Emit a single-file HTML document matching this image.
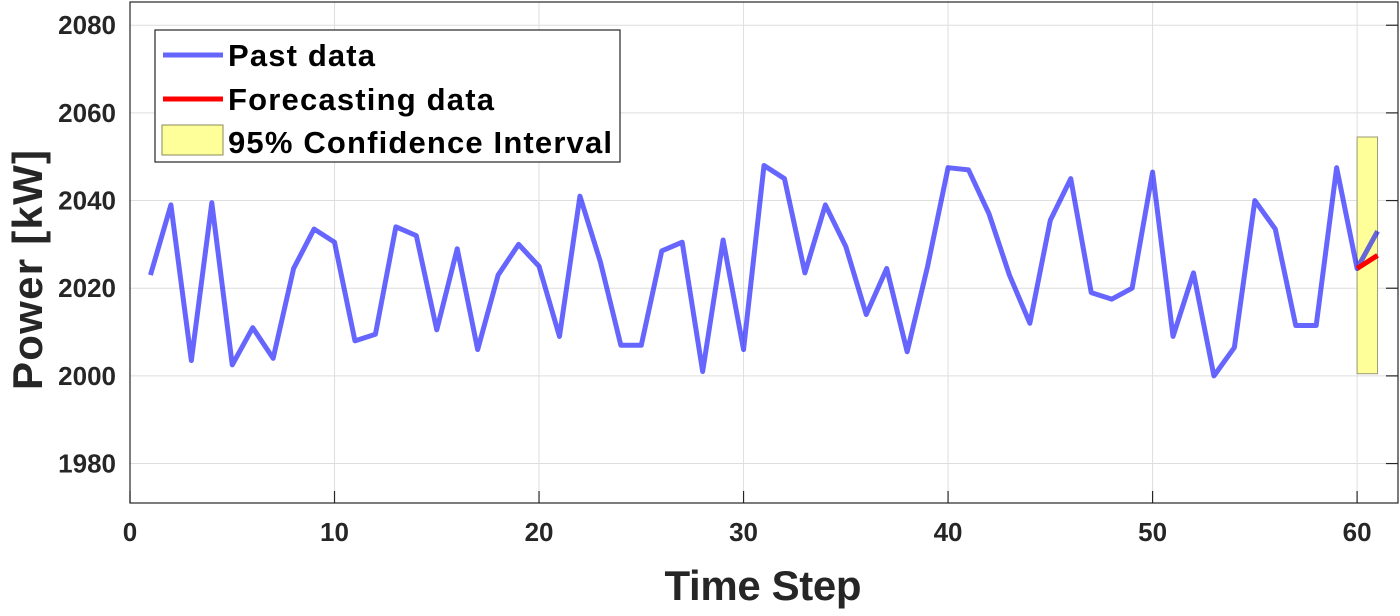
<!DOCTYPE html>
<html><head><meta charset="utf-8"><style>
body{margin:0;background:#fff}
svg text{font-family:"Liberation Sans",Arial,sans-serif;font-weight:bold;fill:#262626}
</style></head><body>
<svg id="chart" width="1400" height="611">
<g id="grid"></g><g id="marks"></g><g id="axes"></g>
<g>
<rect x="155" y="30" width="465" height="132" fill="#fff" stroke="#262626" stroke-width="1.2"/>
<line x1="163" y1="55" x2="223" y2="55" stroke="#6666ff" stroke-width="5"/>
<text x="228" y="66" font-size="31" textLength="147" style="fill:#000">Past data</text>
<line x1="163" y1="99" x2="223" y2="99" stroke="#ff0000" stroke-width="5"/>
<text x="228" y="110" font-size="31" textLength="266" style="fill:#000">Forecasting data</text>
<rect x="162" y="125" width="61" height="30" fill="#ffff99" stroke="#8a8a5a"/>
<text x="228" y="153" font-size="31" textLength="384" style="fill:#000">95% Confidence Interval</text>
</g>
<text x="763" y="600" font-size="42" text-anchor="middle" textLength="197">Time Step</text>
<text transform="translate(42,270) rotate(-90)" font-size="42" text-anchor="middle" textLength="240">Power [kW]</text>
</svg>
<script>
const past=[2023,2039,2003.5,2039.5,2002.5,2011,2004,2024.5,2033.5,2030.5,2008,2009.5,2034,2032,2010.5,2029,2006,2023,2030,2025,2009,2041,2026,2007,2007,2028.5,2030.5,2001,2031,2006,2048,2045,2023.5,2039,2029.5,2014,2024.5,2005.5,2025,2047.5,2047,2037,2023,2012,2035.5,2045,2019,2017.5,2020,2046.5,2009,2023.5,2000,2006.5,2040,2033.5,2011.5,2011.5,2047.5,2024.5,2033];
const forecastSteps=[60,61];
const forecast=[2024.5,2027.5];
const ciRange=[60,61];
const ciBounds=[2000.5,2054.5];
const xTicks=[0,10,20,30,40,50,60];
const yTicks=[1980,2000,2020,2040,2060,2080];
const L=130,R=1398,T=2,B=503,xMin=0,xMax=62,yMin=1971,yMax=2085.3;
const sx=v=>L+(v-xMin)/(xMax-xMin)*(R-L);
const sy=v=>B-(v-yMin)/(yMax-yMin)*(B-T);
const NS="http://www.w3.org/2000/svg";
function mk(tag,attrs,parent){const e=document.createElementNS(NS,tag);for(const k in attrs)e.setAttribute(k,attrs[k]);document.getElementById(parent).appendChild(e);return e;}
xTicks.forEach(t=>{
 const g=mk('line',{x1:sx(t),x2:sx(t),y1:T,y2:B,stroke:'#dedede','stroke-width':1},'grid');
 
 
 const tk=mk('line',{x1:sx(t),x2:sx(t),y1:B,y2:B-12,stroke:'#262626','stroke-width':1.2},'axes');
 
 
 const tx=mk('text',{x:sx(t),y:541,'font-size':26,'text-anchor':'middle'},'axes');tx.textContent=t;
 
 
});
yTicks.forEach(t=>{
 const g=mk('line',{x1:L,x2:R,y1:sy(t),y2:sy(t),stroke:'#dedede','stroke-width':1},'grid');
 
 
 const tk=mk('line',{x1:R,x2:R-12,y1:sy(t),y2:sy(t),stroke:'#262626','stroke-width':1.2},'axes');
 
 
 const tx=mk('text',{x:116,y:sy(t)+9,'font-size':26,'text-anchor':'end'},'axes');tx.textContent=t;
 
 
});
const ax=mk('rect',{x:L,y:T,width:R-L,height:B-T,fill:'none',stroke:'#262626','stroke-width':1.2},'axes');


const ci=mk('rect',{x:sx(ciRange[0]),y:sy(ciBounds[1]),width:sx(ciRange[1])-sx(ciRange[0]),height:sy(ciBounds[0])-sy(ciBounds[1]),fill:'#ffff99',stroke:'#999977','stroke-width':1},'marks');


const p=mk('polyline',{points:past.map((v,i)=>sx(i+1)+','+sy(v)).join(' '),fill:'none',stroke:'#0000ff','stroke-opacity':0.6,'stroke-width':5,'stroke-linejoin':'round'},'marks');


const f=mk('polyline',{points:forecast.map((v,i)=>sx(forecastSteps[i])+','+sy(v)).join(' '),fill:'none',stroke:'#ff0000','stroke-width':5},'marks');


</script>
</body></html>
